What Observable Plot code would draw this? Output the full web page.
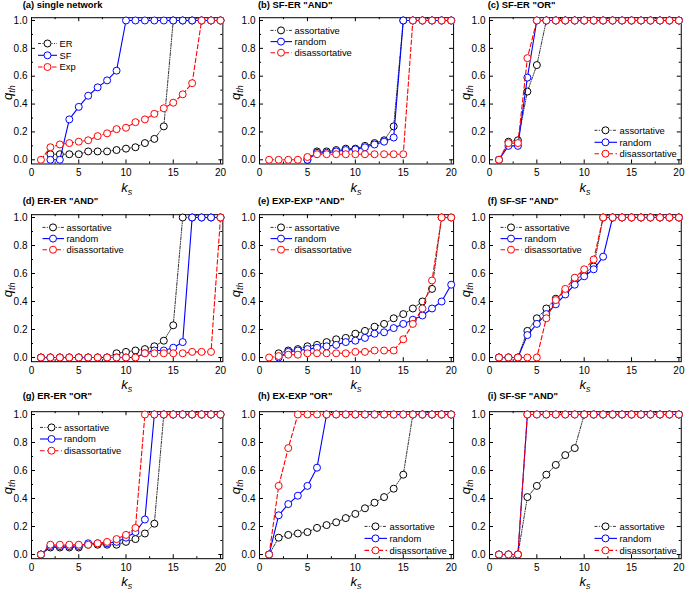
<!DOCTYPE html>
<html><head><meta charset="utf-8">
<script src="https://cdn.jsdelivr.net/npm/d3@7"></script>
<script src="https://cdn.jsdelivr.net/npm/@observablehq/plot@0.6"></script>
<style>
body{margin:0;background:#fff;}
#chart{position:relative;width:685px;height:591px;overflow:hidden;font-family:"Liberation Sans",Arial,sans-serif;}
#chart svg{position:absolute;overflow:visible;}
</style></head><body><div id="chart"></div>
<script>
// x values (k_s)
const K = d3.range(1, 21);
// (a) single network
const a_ER  = [null,0.04,0.04,0.04,0.04,0.06,0.06,0.06,0.07,0.08,0.09,0.12,0.15,0.24,1,1,1,1,1,1];
const a_SF  = [null,0,0,0.29,0.38,0.46,0.52,0.57,0.64,1,1,1,1,1,1,1,1,1,1,1];
const a_Exp = [0,0.09,0.11,0.12,0.13,0.14,0.17,0.19,0.22,0.23,0.27,0.29,0.33,0.37,0.41,0.47,0.55,1,1,1];
// (b) SF-ER "AND"
const b_ass = [null,null,null,null,0,0.06,0.06,0.07,0.08,0.08,0.10,0.12,0.14,0.24,1,1,1,1,1,1];
const b_ran = [null,null,null,null,0,0.05,0.05,0.06,0.07,0.075,0.09,0.11,0.13,0.16,1,1,1,1,1,1];
const b_dis = [0,0,0,0,0.02,0.04,0.04,0.04,0.04,0.04,0.04,0.04,0.04,0.04,0.04,1,1,1,1,1];
// (c) SF-ER "OR"
const c_ass = [0,0.13,0.14,0.49,0.68,1,1,1,1,1,1,1,1,1,1,1,1,1,1,1];
const c_ran = [0,0.10,0.10,0.59,1,1,1,1,1,1,1,1,1,1,1,1,1,1,1,1];
const c_dis = [0,0.12,0.12,0.73,1,1,1,1,1,1,1,1,1,1,1,1,1,1,1,1];
// (d) ER-ER "AND"
const d_ass = [0,0,0,0,0,0,0,0,0.03,0.04,0.05,0.06,0.08,0.12,0.23,1,1,1,1,1];
const d_ran = [0,0,0,0,0,0,0,0,0,0,0,0.03,0.05,0.05,0.07,0.11,1,1,1,1];
const d_dis = [0,0,0,0,0,0,0,0,0,0,0,0.03,0.03,0.03,0.03,0.03,0.04,0.04,0.04,1];
// (e) EXP-EXP "AND"
const e_ass = [null,0.03,0.05,0.06,0.08,0.09,0.11,0.13,0.14,0.17,0.19,0.22,0.24,0.28,0.31,0.35,0.40,0.49,1,1];
const e_ran = [null,0.0,0.04,0.05,0.06,0.07,0.08,0.09,0.11,0.12,0.14,0.17,0.18,0.21,0.24,0.27,0.30,0.35,0.40,0.52];
const e_dis = [0,0.01,0.02,0.02,0.03,0.03,0.03,0.03,0.03,0.04,0.04,0.05,0.05,0.05,0.13,0.24,0.35,0.55,1,1];
// (f) SF-SF "AND"
const f_ass = [0,0,0,0.19,0.28,0.35,0.42,0.47,0.55,0.60,0.65,1,1,1,1,1,1,1,1,1];
const f_ran = [0,0,0,0.16,0.24,0.31,0.38,0.45,0.52,0.58,0.63,0.72,1,1,1,1,1,1,1,1];
const f_dis = [0,0,0,0,0,0.28,0.41,0.49,0.57,0.63,0.70,1,1,1,1,1,1,1,1,1];
// (g) ER-ER "OR"
const g_ass = [0,0.05,0.05,0.05,0.05,0.07,0.07,0.07,0.07,0.09,0.11,0.15,0.22,1,1,1,1,1,1,1];
const g_ran = [0,0.06,0.06,0.06,0.06,0.08,0.08,0.08,0.09,0.12,0.16,0.25,1,1,1,1,1,1,1,1];
const g_dis = [0,0.07,0.07,0.07,0.07,0.07,0.08,0.09,0.11,0.14,0.19,1,1,1,1,1,1,1,1,1];
// (h) EX-EXP "OR"
const h_ass = [0,0.12,0.14,0.15,0.16,0.19,0.21,0.23,0.26,0.29,0.33,0.37,0.41,0.47,0.57,1,1,1,1,1];
const h_ran = [0,0.28,0.36,0.42,0.49,0.62,1,1,1,1,1,1,1,1,1,1,1,1,1,1];
const h_dis = [0,0.49,0.76,1,1,1,1,1,1,1,1,1,1,1,1,1,1,1,1,1];
// (i) SF-SF "AND"
const i_ass = [0,0,0,0.41,0.49,0.57,0.64,0.71,0.76,1,1,1,1,1,1,1,1,1,1,1];
const i_ran = [0,0,0,1,1,1,1,1,1,1,1,1,1,1,1,1,1,1,1,1];
const i_dis = [0,0,0,1,1,1,1,1,1,1,1,1,1,1,1,1,1,1,1,1];

const titles = ['(a) single network','(b) SF-ER "AND"','(c) SF-ER "OR"','(d) ER-ER "AND"','(e) EXP-EXP "AND"','(f) SF-SF "AND"','(g) ER-ER "OR"','(h) EX-EXP "OR"','(i) SF-SF "AND"'];
const namesA = ["ER","SF","Exp"];
const namesB = ["assortative","random","disassortative"];
const xTicks = [0,5,10,15,20], xMinor = [2.5,7.5,12.5,17.5];
const yTicks = [0,0.2,0.4,0.6,0.8,1.0], yMinor = [0.1,0.3,0.5,0.7,0.9];

// styles
const colors = ["#000000","#0000ff","#ff0000"];
const widths = [0.8,1.1,1.1];
const dashes = ["3,1.4,1,1.4,1,1.4", null, "4.5,2.5"];

// layout
const colFrameLeft = [31,259.3,489.3], colPpx = [9.45,9.585,9.47];
const rowY1 = [20,217.3,414.3], rowPpy = [139.3,140,140];
const titleX = [22.7,258.3,488], titleY = [8.4,204.1,399.1];
const legA  = {x0:7,x1:26,cx:16.5,tx:28.5,ys:[23.5,35.3,47],bottom:false};
const legTL = {x0:11.5,x1:33,cx:22,tx:35.5,ys:[10.4,21.6,32.7],bottom:false};
const legG  = {x0:9,x1:31,cx:20.5,tx:33,ys:[13.4,25,36.7],bottom:false};
const legC  = {x0:105.5,x1:128,cx:116.5,tx:130.5,ys:[-29,-17,-5.6],bottom:true};
const legHI = {x0:105.5,x1:128,cx:116.5,tx:130.5,ys:[-27.6,-15.6,-3.6],bottom:true};

const panels = [
  {series:[a_ER,a_SF,a_Exp], names:namesA, leg:legA},
  {series:[b_ass,b_ran,b_dis], names:namesB, leg:legTL},
  {series:[c_ass,c_ran,c_dis], names:namesB, leg:legC},
  {series:[d_ass,d_ran,d_dis], names:namesB, leg:legTL},
  {series:[e_ass,e_ran,e_dis], names:namesB, leg:legTL},
  {series:[f_ass,f_ran,f_dis], names:namesB, leg:legTL},
  {series:[g_ass,g_ran,g_dis], names:namesB, leg:legG},
  {series:[h_ass,h_ran,h_dis], names:namesB, leg:legHI},
  {series:[i_ass,i_ran,i_dis], names:namesB, leg:legHI}
];

const chart = document.getElementById("chart");
const FONT = '"Liberation Sans", Arial, sans-serif';

panels.forEach((p, idx) => {
  const r = Math.floor(idx/3), c = idx%3;
  const ppx = colPpx[c], ppy = rowPpy[r];
  const innerW = 20.25*ppx, innerH = 1.05*ppy;
  const mL = 31, mT = 20 - 0.02*ppy, mR = 3, mB = 36;
  const width = mL+innerW+mR, height = mT+innerH+mB;
  const left = colFrameLeft[c]-mL, top = rowY1[r]-20;
  const marks = [
    Plot.frame({stroke:"black", strokeWidth:1}),
    Plot.tickX(xTicks, {x:d=>d, insetTop:innerH-4, stroke:"black"}),
    Plot.tickX(xTicks, {x:d=>d, insetBottom:innerH-4, stroke:"black"}),
    Plot.tickX(xMinor, {x:d=>d, insetTop:innerH-2, stroke:"black"}),
    Plot.tickX(xMinor, {x:d=>d, insetBottom:innerH-2, stroke:"black"}),
    Plot.tickY(yTicks, {y:d=>d, insetRight:innerW-4, stroke:"black"}),
    Plot.tickY(yTicks, {y:d=>d, insetLeft:innerW-4, stroke:"black"}),
    Plot.tickY(yMinor, {y:d=>d, insetRight:innerW-2, stroke:"black"}),
    Plot.tickY(yMinor, {y:d=>d, insetLeft:innerW-2, stroke:"black"}),
    Plot.axisX(xTicks, {tickSize:0, tickPadding:5, label:null, fontSize:10}),
    Plot.axisY(yTicks, {tickSize:0, tickPadding:4, label:null, tickFormat:d3.format(".1f"), fontSize:10})
  ];
  p.series.forEach((vals, s) => {
    const d = [];
    vals.forEach((v,i) => { if (v != null) d.push({k:K[i], q:v}); });
    marks.push(Plot.line(d, {x:"k", y:"q", stroke:colors[s], strokeWidth:widths[s], strokeDasharray:dashes[s]}));
    marks.push(Plot.dot(d, {x:"k", y:"q", r:3.5, stroke:colors[s], fill:"white", strokeWidth:1}));
  });
  const svg = Plot.plot({
    width, height, marginLeft:mL, marginTop:mT, marginRight:mR, marginBottom:mB,
    x:{domain:[0,20.25]}, y:{domain:[-0.03,1.02]},
    style:{fontFamily:FONT, fontSize:"10px", color:"black", background:"transparent", overflow:"visible"},
    marks
  });
  svg.style.position = "absolute";
  svg.style.left = left+"px";
  svg.style.top = top+"px";
  const g = d3.select(svg);
  // title
  g.append("text").attr("x", titleX[c]-left).attr("y", titleY[r]-top)
    .attr("text-anchor","start")
    .attr("font-family", FONT).attr("font-size", 9.4).attr("font-weight","bold").attr("fill","black")
    .text(titles[idx]);
  // x label k_s
  const xl = g.append("text").attr("x", mL+innerW/2).attr("y", 192.5)
    .attr("text-anchor","middle").attr("font-family", FONT).attr("fill","black");
  xl.append("tspan").attr("font-size",13).attr("font-style","italic").text("k");
  xl.append("tspan").attr("font-size",9).attr("font-style","italic").attr("dy",3).text("s");
  // y label q_th
  const yl = g.append("text").attr("transform", `translate(11.5,${20+ppy*0.5+3}) rotate(-90)`)
    .attr("text-anchor","middle").attr("font-family", FONT).attr("fill","black");
  yl.append("tspan").attr("font-size",13).attr("font-style","italic").text("q");
  yl.append("tspan").attr("font-size",9).attr("font-style","italic").attr("dy",3).text("th");
  // legend
  const L = p.leg;
  p.names.forEach((name, s) => {
    const yy = 20 + (L.bottom ? ppy : 0) + L.ys[s];
    const lg = g.append("g");
    lg.append("line").attr("x1", mL+L.x0).attr("x2", mL+L.x1).attr("y1", yy).attr("y2", yy)
      .attr("stroke", colors[s]).attr("stroke-width", widths[s]).attr("stroke-dasharray", dashes[s]);
    lg.append("circle").attr("cx", mL+L.cx).attr("cy", yy).attr("r", 3.5)
      .attr("fill","white").attr("stroke", colors[s]).attr("stroke-width",1);
    lg.append("text").attr("x", mL+L.tx).attr("y", yy).attr("dy","0.35em")
      .attr("text-anchor","start")
      .attr("font-family", FONT).attr("font-size", 9.4).attr("fill","black").text(name);
  });
  chart.appendChild(svg);
});
</script>
</body></html>
